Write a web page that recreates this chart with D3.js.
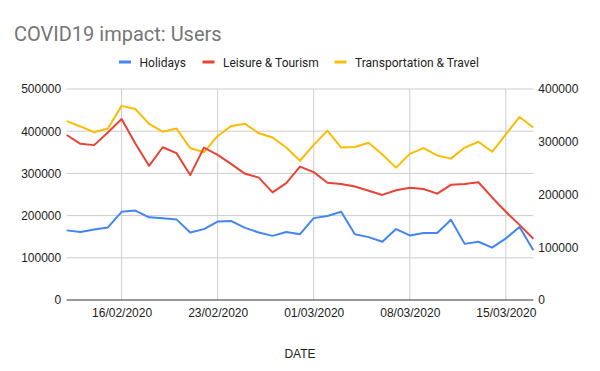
<!DOCTYPE html>
<html><head><meta charset="utf-8">
<script src="https://cdn.jsdelivr.net/npm/d3@7"></script>
<style>body{margin:0;background:#fff}svg{display:block}</style>
</head><body>
<script>
const dates = ["2020-02-12","2020-02-13","2020-02-14","2020-02-15","2020-02-16","2020-02-17","2020-02-18","2020-02-19","2020-02-20","2020-02-21","2020-02-22","2020-02-23","2020-02-24","2020-02-25","2020-02-26","2020-02-27","2020-02-28","2020-02-29","2020-03-01","2020-03-02","2020-03-03","2020-03-04","2020-03-05","2020-03-06","2020-03-07","2020-03-08","2020-03-09","2020-03-10","2020-03-11","2020-03-12","2020-03-13","2020-03-14","2020-03-15","2020-03-16","2020-03-17"];
const holidays = [165000,161000,167000,172000,209000,212000,196000,194000,191000,160000,168000,186000,187000,171000,160000,152000,161000,156000,194000,199000,209000,156000,149000,138000,168000,153000,159000,159000,190000,133000,138000,124000,146000,173000,118000];
const leisure = [391000,370000,367000,397000,429000,371000,318000,362000,348000,296000,361000,344000,322000,299000,290000,255000,277000,316000,303000,278000,275000,269000,259000,249000,260000,266000,263000,252000,273000,275000,279000,243000,209000,178000,145000];
const transport = [339000,329000,318000,325000,368000,362000,334000,319000,325000,288000,280000,311000,330000,334000,316000,308000,289000,264000,294000,321000,289000,290000,298000,276000,251000,277000,288000,274000,268000,289000,300000,281000,314000,347000,327000];
const seriesNames = ["Holidays","Leisure & Tourism","Transportation & Travel"];
const seriesColors = ["#4285F4","#EA4335","#FBBC04"];
const leftTicks = [0,100000,200000,300000,400000,500000];
const rightTicks = [0,100000,200000,300000,400000];
const xTickDates = ["2020-02-16","2020-02-23","2020-03-01","2020-03-08","2020-03-15"];
const xTickLabels = ["16/02/2020","23/02/2020","01/03/2020","08/03/2020","15/03/2020"];

const W = 600, H = 371;
const L = 66.7, R = 533.3, T = 89, B = 300;
const parse = d3.utcParse("%Y-%m-%d");
const xd = dates.map(parse);

const svg = d3.select("body").append("svg").attr("width", W).attr("height", H);
const x = d3.scaleUtc().domain(d3.extent(xd)).range([L, R]);
const yL = d3.scaleLinear().domain([0, 500000]).range([B, T]);
const yR = d3.scaleLinear().domain([0, 400000]).range([B, T]);

// title
svg.append("text").attr("x", 14).attr("y", 40.7)
  .style("font-family", "Roboto").style("font-size", "20px").attr("fill", "#757575")
  .text("COVID19 impact: Users");

// legend
const legX = [119, 202.5, 334.5];
seriesNames.forEach((n, i) => {
  svg.append("rect").attr("x", legX[i]).attr("y", 60.5).attr("width", 12).attr("height", 3)
    .attr("fill", seriesColors[i]);
  svg.append("text").attr("x", legX[i] + 20.5).attr("y", 66.5)
    .style("font-family", "Roboto").style("font-size", "12px").attr("fill", "#222").text(n);
});

// horizontal gridlines
svg.append("g").selectAll("line").data(leftTicks.filter(d => d > 0)).join("line")
  .attr("x1", L).attr("x2", R).attr("y1", d => yL(d)).attr("y2", d => yL(d))
  .attr("stroke", "#cccccc").attr("stroke-width", 1);
// vertical gridlines
const xt = xTickDates.map(parse);
svg.append("g").selectAll("line").data(xt).join("line")
  .attr("x1", d => x(d)).attr("x2", d => x(d)).attr("y1", T).attr("y2", B)
  .attr("stroke", "#cccccc").attr("stroke-width", 1);

// axes labels
const axisFont = "'Liberation Sans', Arial, sans-serif";
const gl = svg.append("g").attr("transform", `translate(${L},0)`)
  .call(d3.axisLeft(yL).tickValues(leftTicks).tickFormat(d3.format("d")).tickSize(0).tickPadding(5.5));
const gr = svg.append("g").attr("transform", `translate(${R},0)`)
  .call(d3.axisRight(yR).tickValues(rightTicks).tickFormat(d3.format("d")).tickSize(0).tickPadding(5));
const gx = svg.append("g").attr("transform", `translate(0,${B})`)
  .call(d3.axisBottom(x).tickValues(xt).tickFormat((d, i) => xTickLabels[i]).tickSize(0).tickPadding(8.5));
[gl, gr, gx].forEach(g => {
  g.select(".domain").remove();
  g.selectAll("text").style("font-family", axisFont).style("font-size", "12px").attr("fill", "#222");
});

// baseline
svg.append("line").attr("x1", L).attr("x2", R).attr("y1", B).attr("y2", B)
  .attr("stroke", "#333").attr("stroke-width", 1);

// x axis title
svg.append("text").attr("x", 300).attr("y", 358).attr("text-anchor", "middle")
  .style("font-family", axisFont).style("font-size", "12px").attr("fill", "#222").text("DATE");

// lines
const data = [
  {vals: holidays, y: yL, c: seriesColors[0]},
  {vals: leisure, y: yL, c: seriesColors[1]},
  {vals: transport, y: yR, c: seriesColors[2]}
];
data.slice().reverse().forEach(s => {
  const line = d3.line().x((d, i) => x(xd[i])).y(d => s.y(d));
  svg.append("path").datum(s.vals).attr("d", line).attr("fill", "none")
    .attr("stroke", s.c).attr("stroke-width", 2).attr("stroke-linejoin", "round");
});
</script>
</body></html>
